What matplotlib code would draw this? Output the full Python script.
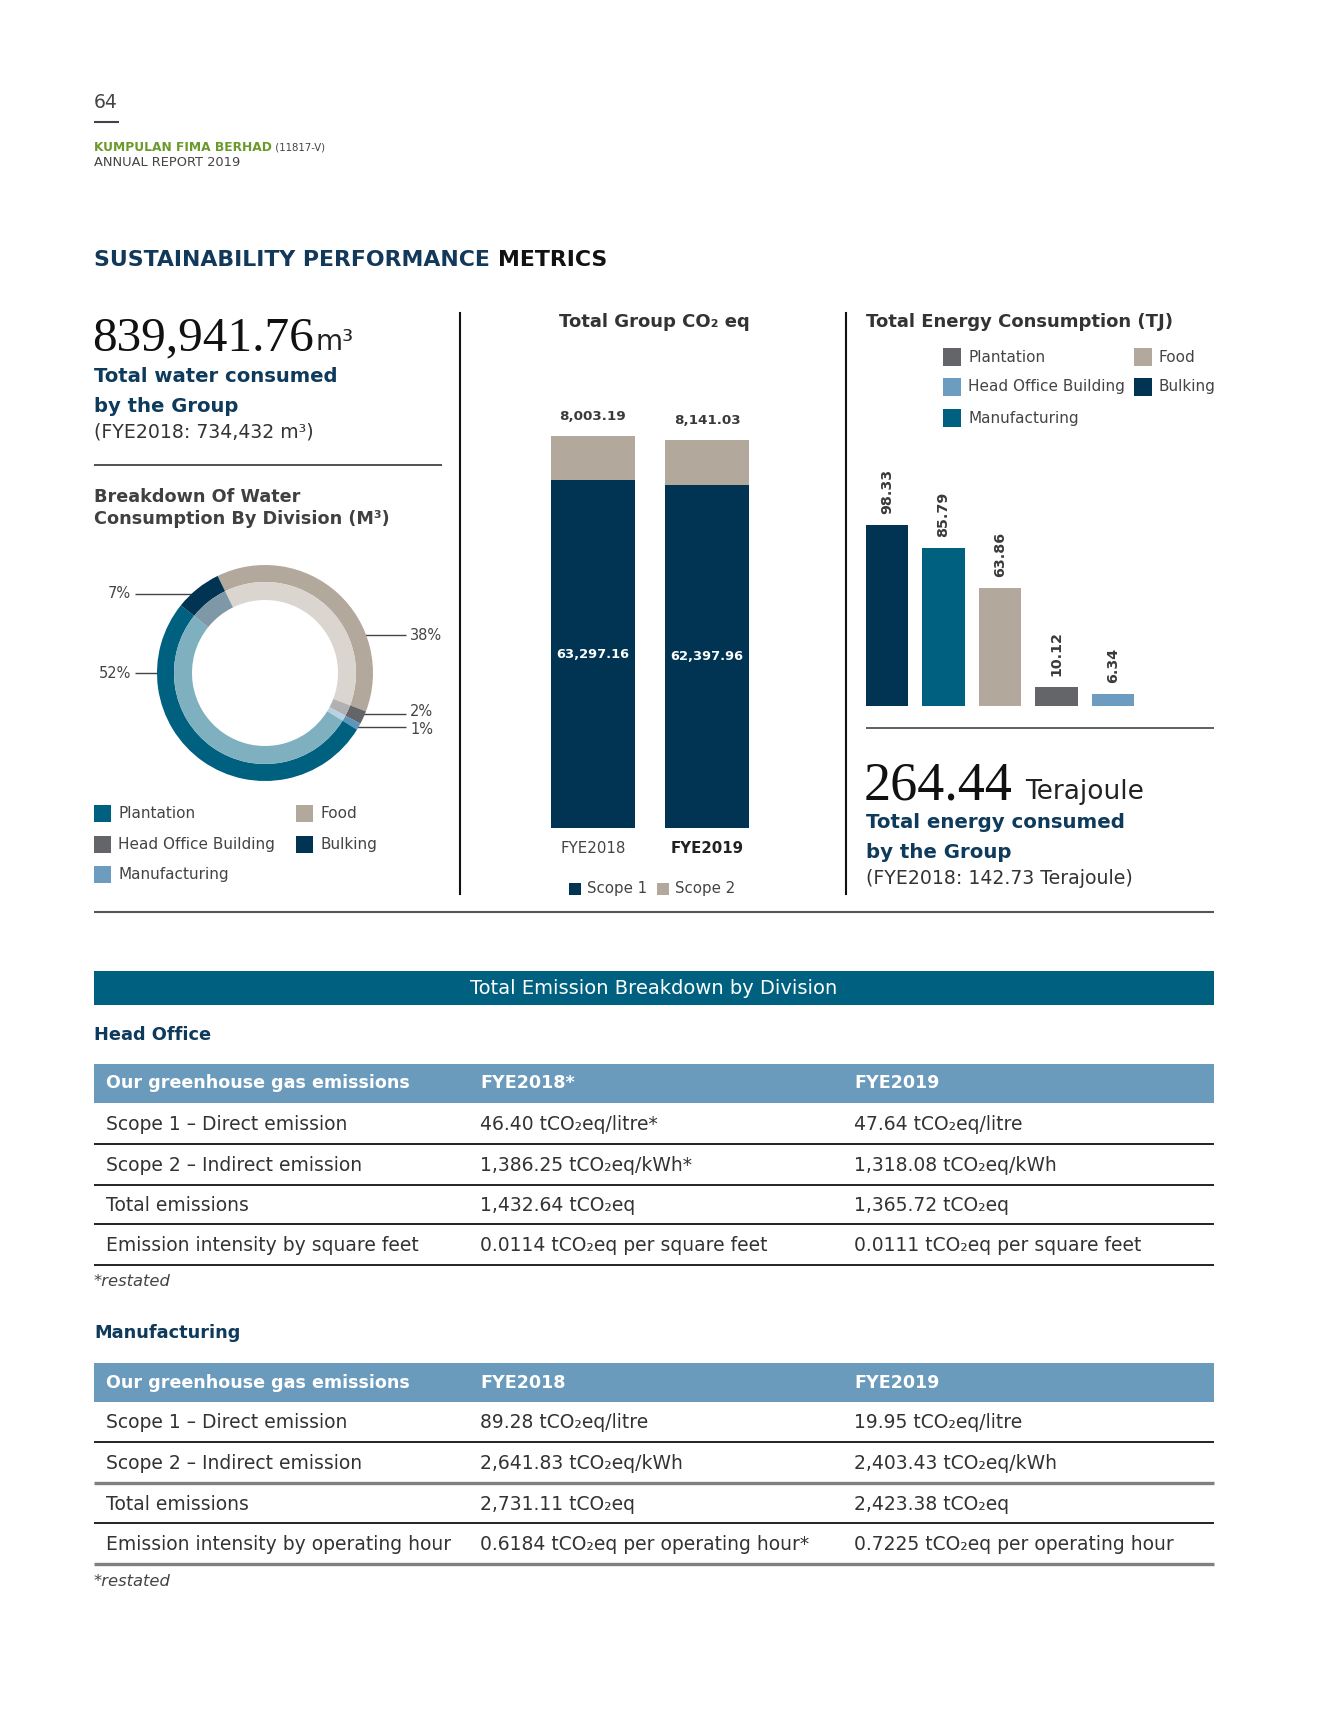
import matplotlib
matplotlib.use("Agg")
import matplotlib.pyplot as plt
from matplotlib.patches import Rectangle

plt.rcParams['font.family'] = ['DejaVu Sans']

# ---------------- data ----------------
water_total = "839,941.76"
water_prev = "(FYE2018: 734,432 m³)"
water_divisions = ["Food", "Head Office Building", "Manufacturing", "Plantation", "Bulking"]
water_share = [38, 2, 1, 52, 7]

co2_years = ["FYE2018", "FYE2019"]
co2_scope1 = [63297.16, 62397.96]
co2_scope2 = [8003.19, 8141.03]

energy_divisions = ["Bulking", "Manufacturing", "Food", "Plantation", "Head Office Building"]
energy_values = [98.33, 85.79, 63.86, 10.12, 6.34]
energy_total = "264.44"
energy_prev = "(FYE2018: 142.73 Terajoule)"

table_cols_ho = ["Our greenhouse gas emissions", "FYE2018*", "FYE2019"]
table_rows_ho = [
    ["Scope 1 – Direct emission", "46.40 tCO₂eq/litre*", "47.64 tCO₂eq/litre"],
    ["Scope 2 – Indirect emission", "1,386.25 tCO₂eq/kWh*", "1,318.08 tCO₂eq/kWh"],
    ["Total emissions", "1,432.64 tCO₂eq", "1,365.72 tCO₂eq"],
    ["Emission intensity by square feet", "0.0114 tCO₂eq per square feet", "0.0111 tCO₂eq per square feet"],
]
table_cols_mf = ["Our greenhouse gas emissions", "FYE2018", "FYE2019"]
table_rows_mf = [
    ["Scope 1 – Direct emission", "89.28 tCO₂eq/litre", "19.95 tCO₂eq/litre"],
    ["Scope 2 – Indirect emission", "2,641.83 tCO₂eq/kWh", "2,403.43 tCO₂eq/kWh"],
    ["Total emissions", "2,731.11 tCO₂eq", "2,423.38 tCO₂eq"],
    ["Emission intensity by operating hour", "0.6184 tCO₂eq per operating hour*", "0.7225 tCO₂eq per operating hour"],
]

# ---------------- colours ----------------
C_PLANT = "#00607F"
C_HO = "#646569"
C_MANU = "#6C9DC0"
C_FOOD = "#B3A89C"
C_BULK = "#003452"
NAVY = "#0E3A5C"
GREY_T = "#404040"
water_outer = {"Food": C_FOOD, "Head Office Building": C_HO, "Manufacturing": "#5E95BC",
               "Plantation": C_PLANT, "Bulking": C_BULK}
water_inner = {"Food": "#DBD5D0", "Head Office Building": "#B1B1B1", "Manufacturing": "#B7D2E3",
               "Plantation": "#7FB0C0", "Bulking": "#7F98A8"}
energy_colors = {"Bulking": C_BULK, "Manufacturing": C_PLANT, "Food": C_FOOD,
                 "Plantation": C_HO, "Head Office Building": C_MANU}

W, H = 1337, 1734
fig = plt.figure(figsize=(W / 100, H / 100), dpi=100)
page = fig.add_axes([0, 0, 1, 1])
page.set_xlim(0, W)
page.set_ylim(H, 0)
page.axis("off")
renderer = fig.canvas.get_renderer()


def box(x0, y0, x1, y1):
    return [x0 / W, 1 - y1 / H, (x1 - x0) / W, (y1 - y0) / H]


def seq(x, y, pieces, va="baseline"):
    for s, kw in pieces:
        t = page.text(x, y, s, va=va, ha="left", **kw)
        x += t.get_window_extent(renderer).width
    return x


def hline(y, x0, x1, color="#333333", lw=1.2):
    page.plot([x0, x1], [y, y], color=color, lw=lw, solid_capstyle="butt")


BODY = 13.5
HEAD = 12.6

# ---------------- header ----------------
page.text(94, 102, "64", fontsize=13.5, color="#444444", va="center")
hline(122, 94, 119, color="#444444", lw=1.5)
seq(94, 151, [("KUMPULAN FIMA BERHAD", dict(fontsize=8.8, color="#6A9A2A", weight="bold")),
              (" (11817-V)", dict(fontsize=7.3, color="#444444"))])
page.text(94, 166, "ANNUAL REPORT 2019", fontsize=9.4, color="#444444", va="baseline")
seq(94, 266, [("SUSTAINABILITY PERFORMANCE ", dict(fontsize=15.8, color="#12385A", weight="bold")),
              ("METRICS", dict(fontsize=15.8, color="#111111", weight="bold"))])

# separators
page.plot([460, 460], [313, 894], color="#111111", lw=1.5)
page.plot([846, 846], [313, 894], color="#111111", lw=1.5)
hline(912, 94, 1214, color="#555555", lw=1.5)

# ---------------- water block ----------------
x_end = seq(92, 350, [(water_total, dict(fontsize=35.5, color="#111111", family="Liberation Serif"))])
seq(x_end + 2, 350, [("m³", dict(fontsize=20, color="#222222"))])
page.text(94, 376, "Total water consumed", fontsize=14.1, color=NAVY, weight="bold", va="center")
page.text(94, 406, "by the Group", fontsize=14.1, color=NAVY, weight="bold", va="center")
page.text(94, 432, water_prev, fontsize=13.6, color="#333333", va="center")
hline(465, 94, 442, color="#333333", lw=1.2)
page.text(94, 497, "Breakdown Of Water", fontsize=12.7, color=GREY_T, weight="bold", va="center")
page.text(94, 519, "Consumption By Division (M³)", fontsize=12.7, color=GREY_T, weight="bold", va="center")

R = 108
cx, cy = 265, 673
dax = fig.add_axes(box(cx - R, cy - R, cx + R, cy + R))
dax.pie(water_share, radius=1.0, startangle=116, counterclock=False,
        colors=[water_outer[d] for d in water_divisions],
        wedgeprops=dict(width=17 / R, linewidth=0))
dax.pie(water_share, radius=91 / R, startangle=116, counterclock=False,
        colors=[water_inner[d] for d in water_divisions],
        wedgeprops=dict(width=18 / R, linewidth=0))
dax.set_xlim(-1, 1)
dax.set_ylim(-1, 1)
dax.set_aspect("equal")
dax.axis("off")

# donut leader labels
lab_kw = dict(fontsize=10.5, color="#444444", va="center")
hline(594, 135, 196, color="#444444", lw=1)
page.text(131, 594, f"{water_share[4]}%", ha="right", **lab_kw)
hline(673, 135, 158, color="#444444", lw=1)
page.text(131, 673, f"{water_share[3]}%", ha="right", **lab_kw)
hline(635, 364, 406, color="#444444", lw=1)
page.text(410, 635, f"{water_share[0]}%", ha="left", **lab_kw)
hline(714, 362, 406, color="#444444", lw=1)
page.text(410, 712, f"{water_share[1]}%", ha="left", **lab_kw)
hline(727, 357, 406, color="#444444", lw=1)
page.text(410, 730, f"{water_share[2]}%", ha="left", **lab_kw)

# water legend
leg_w = [("Plantation", 94, 813), ("Head Office Building", 94, 844), ("Manufacturing", 94, 874),
         ("Food", 296, 813), ("Bulking", 296, 844)]
leg_cols = {"Plantation": C_PLANT, "Head Office Building": C_HO, "Manufacturing": C_MANU,
            "Food": C_FOOD, "Bulking": C_BULK}
for name, x, y in leg_w:
    page.add_patch(Rectangle((x, y - 8.5), 17, 17, color=leg_cols[name], lw=0))
    page.text(x + 24, y, name, fontsize=11, color="#444444", va="center")

# ---------------- CO2 block ----------------
page.text(654, 322, "Total Group CO₂ eq", fontsize=13, color="#333333", weight="bold",
          va="center", ha="center")
cax = fig.add_axes(box(536, 400, 764, 828))
xs = list(range(len(co2_years)))
cax.bar(xs, co2_scope1, width=0.737, color=C_BULK, linewidth=0)
cax.bar(xs, co2_scope2, bottom=co2_scope1, width=0.737, color=C_FOOD, linewidth=0)
top_total = co2_scope1[0] + co2_scope2[0]
cax.set_ylim(0, top_total * 428 / 392)
cax.set_xlim(-0.5, 1.5)
cax.axis("off")
for i in xs:
    tot = co2_scope1[i] + co2_scope2[i]
    cax.annotate(f"{co2_scope2[i]:,.2f}", (i, tot), xytext=(0, 14), textcoords="offset points",
                 ha="center", va="center", fontsize=9.7, weight="bold", color="#3A3A3A")
    cax.text(i, co2_scope1[i] / 2, f"{co2_scope1[i]:,.2f}", ha="center", va="center",
             fontsize=9.4, weight="bold", color="white")
    cax.annotate(co2_years[i], (i, 0), xytext=(0, -14.5), textcoords="offset points",
                 ha="center", va="center", fontsize=10.8,
                 weight="bold" if i == 1 else "normal",
                 color="#222222" if i == 1 else "#444444")
for name, col, x in [("Scope 1", C_BULK, 569), ("Scope 2", C_FOOD, 657)]:
    page.add_patch(Rectangle((x, 883), 12, 12, color=col, lw=0))
    page.text(x + 18, 889, name, fontsize=10.8, color="#444444", va="center")

# ---------------- energy block ----------------
page.text(866, 322, "Total Energy Consumption (TJ)", fontsize=13, color="#333333",
          weight="bold", va="center")
leg_e = [("Plantation", 943, 357), ("Head Office Building", 943, 387), ("Manufacturing", 943, 418),
         ("Food", 1134, 357), ("Bulking", 1134, 387)]
for name, x, y in leg_e:
    page.add_patch(Rectangle((x, y - 9), 18, 18, color=energy_colors[name], lw=0))
    page.text(x + 25, y, name, fontsize=11, color="#444444", va="center")

eax = fig.add_axes(box(858.75, 450, 1141.25, 706))
ex = list(range(len(energy_values)))
eax.bar(ex, energy_values, width=0.76, color=[energy_colors[d] for d in energy_divisions],
        linewidth=0)
eax.set_xlim(-0.5, len(energy_values) - 0.5)
eax.set_ylim(0, 256 / 1.841)
eax.axis("off")
for i, v in zip(ex, energy_values):
    eax.annotate(f"{v:.2f}", (i, v), xytext=(0, 8), textcoords="offset points",
                 rotation=90, ha="center", va="bottom", fontsize=10.3, weight="bold",
                 color="#3A3A3A")
hline(728, 866, 1214, color="#444444", lw=1.2)
x_end = seq(864, 799, [(energy_total, dict(fontsize=39, color="#111111", family="Liberation Serif"))])
seq(x_end + 12, 799, [("Terajoule", dict(fontsize=19, color="#222222"))])
page.text(866, 822, "Total energy consumed", fontsize=14.2, color=NAVY, weight="bold", va="center")
page.text(866, 852, "by the Group", fontsize=14.2, color=NAVY, weight="bold", va="center")
page.text(866, 879, energy_prev, fontsize=13.6, color="#333333", va="center")

# ---------------- tables ----------------
page.add_patch(Rectangle((94, 971), 1120, 34, color=C_PLANT, lw=0))
page.text(654, 988, "Total Emission Breakdown by Division", fontsize=14, color="white",
          ha="center", va="center")

col_x = [106, 480, 854]


def draw_table(title, title_y, cols, rows, head_top, seps, sep_styles, note_y):
    page.text(94, title_y, title, fontsize=12.8, color=NAVY, weight="bold", va="center")
    head_bot = head_top + 39
    page.add_patch(Rectangle((94, head_top), 1120, 39, color="#6A9BBD", lw=0))
    for x, c in zip(col_x, cols):
        page.text(x, head_top + 19.5, c, fontsize=HEAD, color="white", weight="bold", va="center")
    prev = head_bot
    for r, sep, (scol, slw) in zip(rows, seps, sep_styles):
        yc = (prev + sep) / 2 + 1
        for x, c in zip(col_x, r):
            page.text(x, yc, c, fontsize=BODY, color="#333333", va="center")
        hline(sep, 94, 1214, color=scol, lw=slw)
        prev = sep
    page.text(94, note_y, "*restated", fontsize=11.8, color="#444444", style="italic", va="center")


dark = ("#222222", 1.4)
grey = ("#808080", 2.4)
draw_table("Head Office", 1035, table_cols_ho, table_rows_ho, 1064,
           [1144, 1185, 1224, 1265], [dark, dark, dark, dark], 1282)
draw_table("Manufacturing", 1333, table_cols_mf, table_rows_mf, 1363,
           [1442, 1483, 1523, 1564], [dark, grey, dark, grey], 1581)

fig.savefig("out.png", dpi=100, facecolor="white")
